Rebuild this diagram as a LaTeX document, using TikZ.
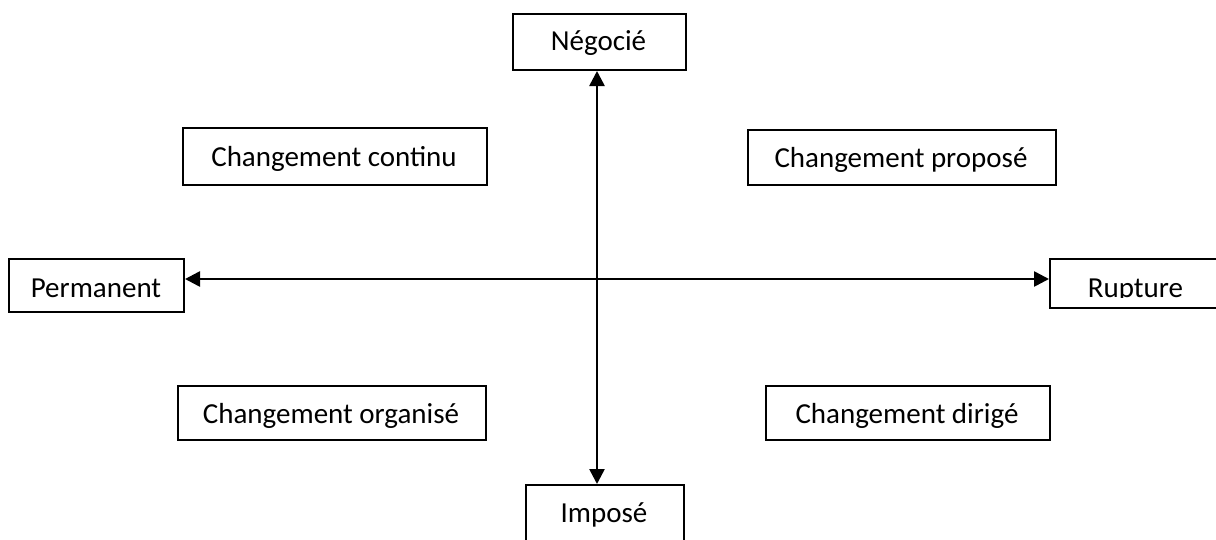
\documentclass[tikz,border=0pt]{standalone}
\usepackage{fontspec}
\setmainfont{Carlito}
\usetikzlibrary{arrows.meta}
\begin{document}
\begin{tikzpicture}[x=1pt,y=-1pt,
  box/.style={draw=black,line width=2pt,rectangle,inner sep=0pt,anchor=north west},
  lbl/.style={anchor=base,inner sep=0pt,font=\fontsize{29}{34}\selectfont},
  arr/.style={line width=2.6pt,{Triangle[length=15pt,width=15pt]}-{Triangle[length=15pt,width=15pt]}}]
\useasboundingbox (0,0) rectangle (1216,539);
\clip (0,0) rectangle (1216,539);
% boxes
\node[box,minimum width=173pt,minimum height=56pt] (neg) at (512,13) {};
\node[lbl] (negt) at (598.5,50) {Négocié};
\node[box,minimum width=175pt,minimum height=53pt] (perm) at (8,258) {};
\node[lbl] (permt) at (96,297) {Permanent};
\node[box,minimum width=190pt,minimum height=49pt] (rup) at (1049,258) {};
\begin{scope}
\clip (1049,258) rectangle (1216,297.5);
\node[lbl] (rupt) at (1135.5,297) {Rupture};
\end{scope}
\node[box,minimum width=158pt,minimum height=80pt] (imp) at (525,484) {};
\node[lbl] (impt) at (604,522) {Imposé};
\node[box,minimum width=304pt,minimum height=57pt] (cc) at (182,127) {};
\node[lbl] (cct) at (334,166) {Changement continu};
\node[box,minimum width=308pt,minimum height=55pt] (cp) at (747,129) {};
\node[lbl] (cpt) at (901,167) {Changement proposé};
\node[box,minimum width=308pt,minimum height=54pt] (co) at (177,385) {};
\node[lbl] (cot) at (331,423) {Changement organisé};
\node[box,minimum width=284pt,minimum height=54pt] (cd) at (765,385) {};
\node[lbl] (cdt) at (907,423) {Changement dirigé};
% axes
\coordinate (c) at (597,279);
\draw[arr] (c |- neg.south) -- (c |- imp.north);
\draw[arr] (c -| perm.east) -- (c -| rup.west);
\end{tikzpicture}
\end{document}
